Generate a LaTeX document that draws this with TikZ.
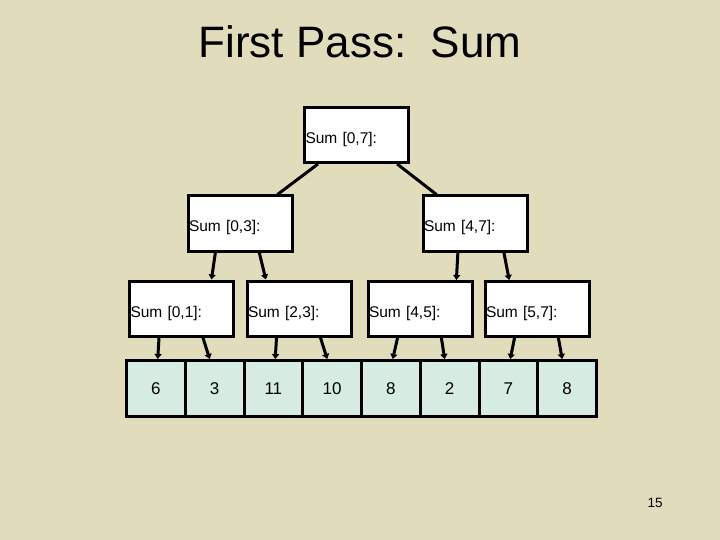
\documentclass[tikz,border=0pt]{standalone}
\usepackage{fontspec}
\setmainfont{Liberation Sans}
\usetikzlibrary{calc,arrows.meta}
\definecolor{slidebg}{RGB}{224,220,188}
\definecolor{cellfill}{RGB}{214,236,226}
\tikzset{
	sumbox/.style={draw, line width=3pt, fill=white, minimum height=55pt, text width=102pt, text height=18pt, text depth=1pt, inner sep=1pt, align=left, font=\fontsize{15.5}{18}\selectfont},
	cellbox/.style={draw, line width=3pt, fill=cellfill, minimum width=58.75pt, minimum height=56pt, inner sep=0pt, font=\fontsize{17}{20}\selectfont},
	link/.style={line width=3pt},
	push/.style={line width=3pt, -{Triangle[length=5pt,width=7pt]}},
}

\begin{document}
\begin{tikzpicture}[x=1pt, y=-1pt]
			%%%%% START %%%%%
			
			\fill[slidebg] (0, 0) rectangle (720, 540);
			\useasboundingbox (0, 0) rectangle (720, 540);
			
			\node (title) at (360, 42) {\fontsize{44}{50}\selectfont First Pass:\ \ Sum};
			\node (page) at (655, 503) {\fontsize{13.5}{16}\selectfont 15};
			
			\node[sumbox] (s07) at (356.5, 135) {Sum [0,7]:};
			
			\node[sumbox] (s03) at (240, 223.5) {Sum [0,3]:};
			\node[sumbox] (s47) at (475, 223.5) {Sum [4,7]:};
			
			\node[sumbox] (s01) at (181.5, 308.5) {Sum [0,1]:};
			\node[sumbox] (s23) at (299, 308.5) {Sum [2,3]:};
			\node[sumbox] (s45) at (420, 309) {Sum [4,5]:};
			\node[sumbox] (s57) at (537, 309) {Sum [5,7]:};
			
			\foreach \v [count=\i from 0] in {6, 3, 11, 10, 8, 2, 7, 8}
				\node[cellbox] (c\i) at ({126.5 + 58.75*(\i + 0.5)}, 388.5) {\v};
			
			\draw[link] ($(s07.south west)!0.14!(s07.south east)$) -- ($(s03.north west)!0.85!(s03.north east)$);
			\draw[link] ($(s07.south west)!0.88!(s07.south east)$) -- ($(s47.north west)!0.14!(s47.north east)$);
			
			\draw[push] ($(s03.south west)!0.27!(s03.south east)$) -- ($(s01.north west)!0.78!(s01.north east)$);
			\draw[push] ($(s03.south west)!0.68!(s03.south east)$) -- ($(s23.north west)!0.19!(s23.north east)$);
			\draw[push] ($(s47.south west)!0.34!(s47.south east)$) -- ($(s45.north west)!0.84!(s45.north east)$);
			\draw[push] ($(s47.south west)!0.77!(s47.south east)$) -- ($(s57.north west)!0.24!(s57.north east)$);
			
			\foreach \p/\l/\r in {s01/0/1, s23/2/3, s45/4/5, s57/6/7} {
				\draw[push] ($(\p.south west)!0.29!(\p.south east)$) -- ($(c\l.north west)!0.53!(c\l.north east)$);
				\draw[push] ($(\p.south west)!0.70!(\p.south east)$) -- ($(c\r.north west)!0.42!(c\r.north east)$);
			}
			
			%%%%% END %%%%%
\end{tikzpicture}
\end{document}
